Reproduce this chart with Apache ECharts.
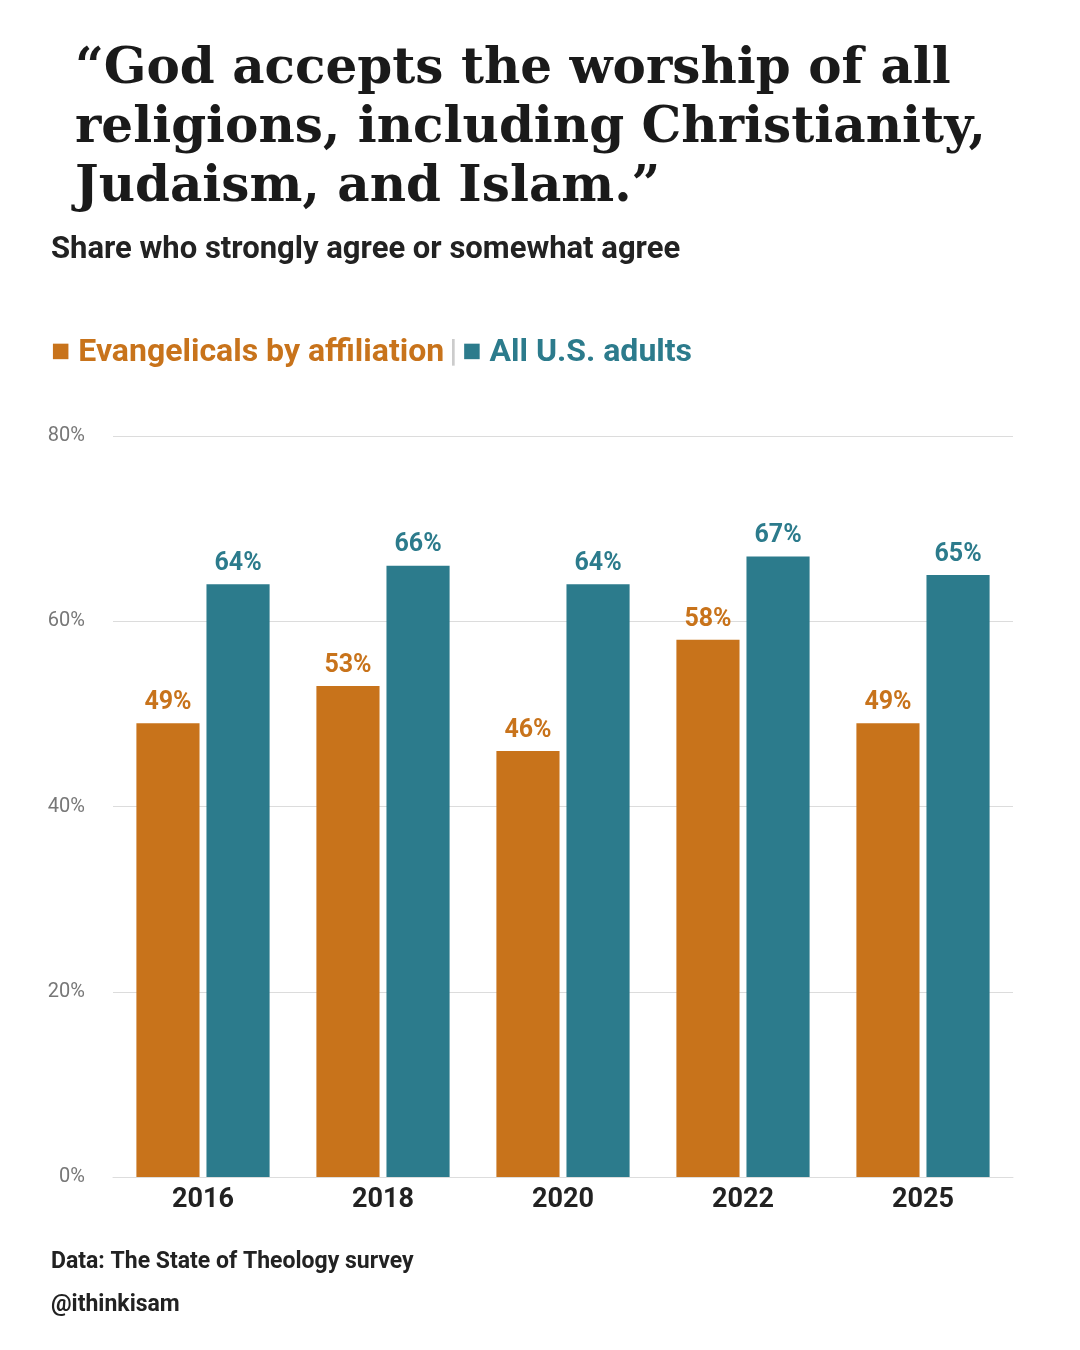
<!DOCTYPE html>
<html><head><meta charset="utf-8">
<script src="https://cdn.jsdelivr.net/npm/echarts@6/dist/echarts.min.js"></script>
<style>html,body{margin:0;padding:0;background:#fff}#c{width:1080px;height:1350px}</style>
</head><body><div id="c"></div>
<script>
const categories = ['2016','2018','2020','2022','2025'];
const evangelicals = [49,53,46,58,49];
const allAdults = [64,66,64,67,65];
const yTicks = [0,20,40,60,80];
const ORANGE='#C8731B', TEAL='#2C7B8C';
const chart = echarts.init(document.getElementById('c'));
const lbl = c => ({show:true,position:'top',distance:8,formatter:'{c}%',color:c,fontFamily:'Roboto',fontWeight:'bold',fontSize:25});
chart.setOption({
  animation:false,
  title:[
    {text:'“God accepts the worship of all\nreligions, including Christianity,\nJudaism, and Islam.”',left:70,top:36,
     textStyle:{fontFamily:'DejaVu Serif',fontWeight:'bold',fontSize:50,lineHeight:59,color:'#1a1a1a'}},
    {text:'Share who strongly {b|agree} or somewhat {b|agree}',left:46,top:230,
     textStyle:{fontFamily:'Roboto',fontSize:31,color:'#222',rich:{b:{fontFamily:'Roboto',fontSize:31,fontWeight:'bold',color:'#222'}}}},
    {text:'{o|■ Evangelicals by affiliation} {s||} {t|■ All U.S. adults}',left:46,top:332,
     textStyle:{rich:{o:{color:ORANGE,fontFamily:'Roboto',fontWeight:'bold',fontSize:32},
       s:{color:'#ccc',fontFamily:'Roboto',fontSize:32},
       t:{color:TEAL,fontFamily:'Roboto',fontWeight:'bold',fontSize:32}}}},
    {text:'Data: The State of Theology survey',left:46,top:1246,textStyle:{fontFamily:'Roboto',fontWeight:'bold',fontSize:23,color:'#222'}},
    {text:'@ithinkisam',left:46,top:1289,textStyle:{fontFamily:'Roboto',fontWeight:'bold',fontSize:23,color:'#222'}}
  ],
  grid:{left:113,right:67,top:436,bottom:173},
  xAxis:{type:'category',data:categories,axisTick:{show:false},
    axisLine:{lineStyle:{color:'#ddd'}},
    axisLabel:{color:'#222',fontFamily:'Roboto',fontWeight:'bold',fontSize:27,margin:10}},
  yAxis:{type:'value',min:0,max:80,interval:20,
    axisLabel:{formatter:v=>yTicks.includes(v)?v+'%':'',color:'#777',fontFamily:'Roboto',fontSize:20,margin:28},
    splitLine:{lineStyle:{color:'#dcdcdc'}}},
  series:[
    {type:'bar',data:evangelicals,itemStyle:{color:ORANGE},barGap:'11%',barCategoryGap:'26%',label:lbl(ORANGE)},
    {type:'bar',data:allAdults,itemStyle:{color:TEAL},label:lbl(TEAL)}
  ]
});
</script></body></html>
